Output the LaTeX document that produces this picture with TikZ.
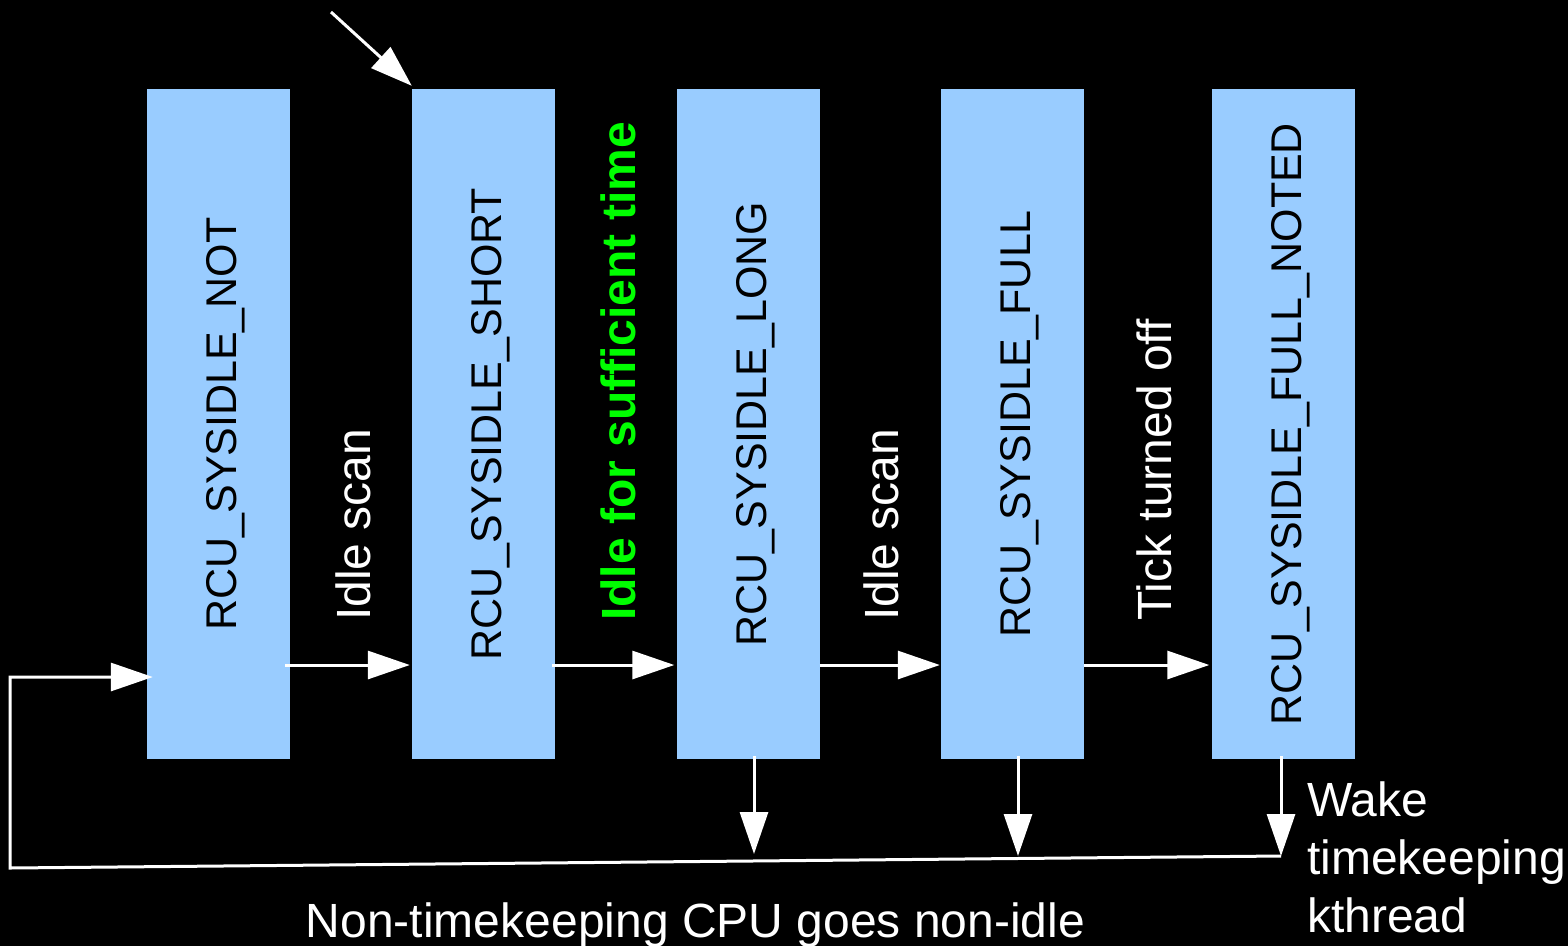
\documentclass[tikz,border=0pt]{standalone}
\usepackage{fontspec}
\setmainfont{Liberation Sans}
\usetikzlibrary{arrows.meta}
\definecolor{boxblue}{HTML}{99CCFF}
\definecolor{lbgreen}{HTML}{00FF00}
\begin{document}
\begin{tikzpicture}[x=1pt,y=-1pt,
  state/.style={fill=boxblue,draw=none,minimum width=143pt,minimum height=670pt,inner sep=0pt},
  statelabel/.style={rotate=90,anchor=base,inner sep=0pt,text=black,font=\fontsize{43}{50}\selectfont},
  edgelabel/.style={rotate=90,anchor=base west,inner sep=0pt,text=white,font=\fontsize{48}{56}\selectfont},
  arr/.style={draw=white,line width=3pt,-{Triangle[length=42pt,width=28pt]}},
  plain/.style={draw=white,line width=3pt}]
\fill[black] (0,0) rectangle (1568,946);
\useasboundingbox (0,0) rectangle (1568,946);
% states
\node[state] (b1) at (218.5,424) {};
\node[state] (b2) at (483.5,424) {};
\node[state] (b3) at (748,424) {};
\node[state] (b4) at (1012.5,424) {};
\node[state] (b5) at (1283,424) {};
\node[statelabel] (t1) at (236.5,424) {RCU\_SYSIDLE\_NOT};
\node[statelabel] (t2) at (501.5,424) {RCU\_SYSIDLE\_SHORT};
\node[statelabel] (t3) at (766,424) {RCU\_SYSIDLE\_LONG};
\node[statelabel] (t4) at (1030.5,424) {RCU\_SYSIDLE\_FULL};
\node[statelabel] (t5) at (1301,424) {RCU\_SYSIDLE\_FULL\_NOTED};
% edge labels
\node[edgelabel] (l1) at (370,621) {Idle scan};
\node[edgelabel,text=lbgreen,font=\fontsize{48}{56}\selectfont\bfseries] (l2) at (635,621) {Idle for sufficient time};
\node[edgelabel] (l3) at (898,621) {Idle scan};
\node[edgelabel] (l4) at (1171,621) {Tick turned off};
% helper coordinates
\coordinate (h) at (0,665);
\coordinate (start) at (331,12);
\coordinate (c1) at (10,868);
\coordinate (c2) at (10,677);
\coordinate (j5) at (1281,857);
\coordinate (d3) at (754,854);
\coordinate (d4) at (1018,856);
\coordinate (d5) at (1281,856);
% forward transitions
\draw[arr] ([xshift=-5pt]b1.east |- h) -- ([xshift=-2pt]b2.west |- h);
\draw[arr] ([xshift=-3pt]b2.east |- h) -- ([xshift=-2pt]b3.west |- h);
\draw[arr] (b3.east |- h) -- ([xshift=-1pt]b4.west |- h);
\draw[arr] (b4.east |- h) -- ([xshift=-2pt]b5.west |- h);
% initial arrow
\draw[arr] (start) -- ([shift={(0pt,3pt)}]b2.north west);
% downward arrows
\draw[arr] ([yshift=3pt]d3 |- b3.south) -- (d3);
\draw[arr] ([yshift=3pt]d4 |- b4.south) -- (d4);
\draw[arr] ([yshift=3pt]d5 |- b5.south) -- (d5);
% return loop
\draw[arr,line join=miter] ([yshift=1pt]j5) -- (c1) -- (c2) -- ([xshift=6pt]b1.west |- c2);
% texts
\node[text=white,anchor=base,inner sep=0pt,font=\fontsize{48}{56}\selectfont] (bot) at (695.5,937) {Non-timekeeping CPU goes non-idle};
\node[text=white,anchor=north west,inner sep=0pt,align=left,font=\fontsize{48}{58}\selectfont] (wake) at (1307,782) {Wake\\timekeeping\\kthread};
\end{tikzpicture}
\end{document}
